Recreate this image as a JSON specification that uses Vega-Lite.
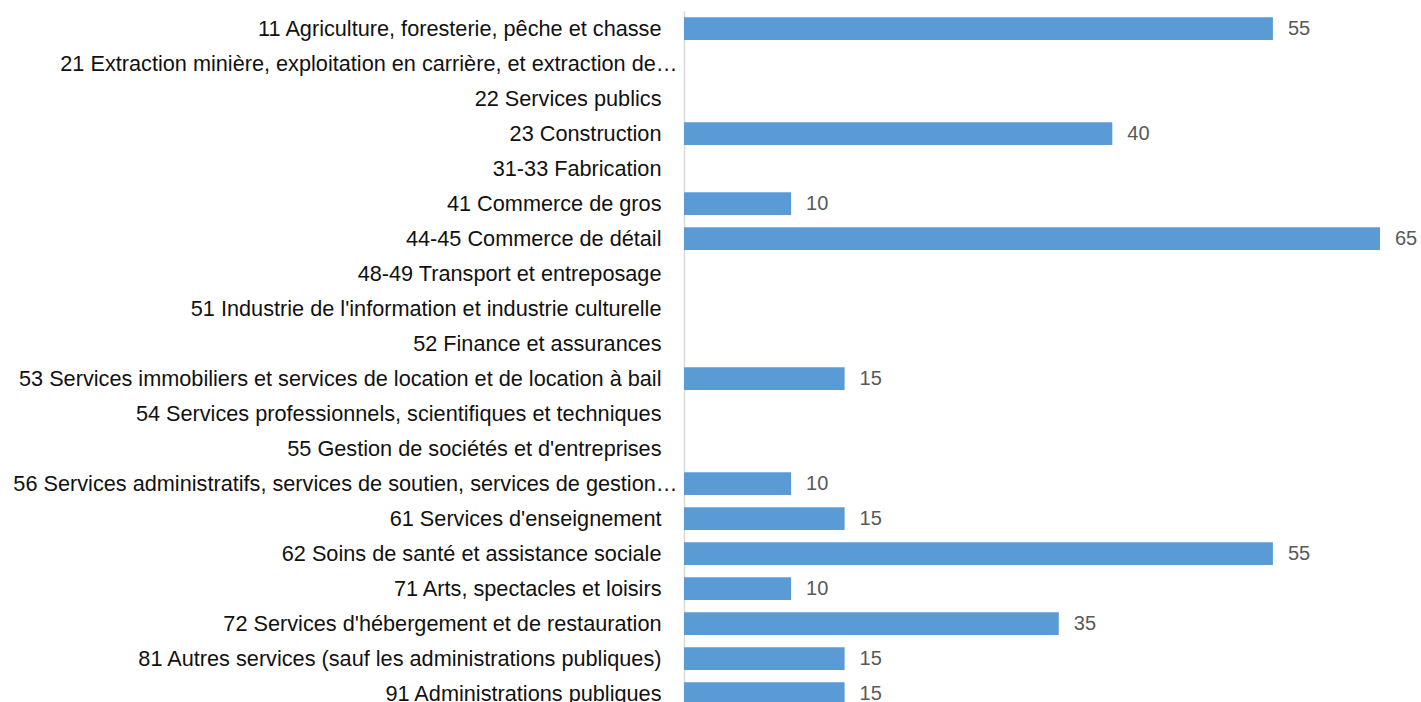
{
  "$schema": "https://vega.github.io/schema/vega-lite/v6.json",
  "width": 696,
  "height": 700,
  "autosize": {"type": "none"},
  "padding": {"left": 684, "top": 11, "right": 41, "bottom": 0},
  "background": "white",
  "config": {"view": {"stroke": null}, "font": "Liberation Sans"},
  "data": {"values": [
    {"secteur": "11 Agriculture, foresterie, pêche et chasse", "valeur": 55},
    {"secteur": "21 Extraction minière, exploitation en carrière, et extraction de…", "valeur": null},
    {"secteur": "22 Services publics", "valeur": null},
    {"secteur": "23 Construction", "valeur": 40},
    {"secteur": "31-33 Fabrication", "valeur": null},
    {"secteur": "41 Commerce de gros", "valeur": 10},
    {"secteur": "44-45 Commerce de détail", "valeur": 65},
    {"secteur": "48-49 Transport et entreposage", "valeur": null},
    {"secteur": "51 Industrie de l'information et industrie culturelle", "valeur": null},
    {"secteur": "52 Finance et assurances", "valeur": null},
    {"secteur": "53 Services immobiliers et services de location et de location à bail", "valeur": 15},
    {"secteur": "54 Services professionnels, scientifiques et techniques", "valeur": null},
    {"secteur": "55 Gestion de sociétés et d'entreprises", "valeur": null},
    {"secteur": "56 Services administratifs, services de soutien, services de gestion…", "valeur": 10},
    {"secteur": "61 Services d'enseignement", "valeur": 15},
    {"secteur": "62 Soins de santé et assistance sociale", "valeur": 55},
    {"secteur": "71 Arts, spectacles et loisirs", "valeur": 10},
    {"secteur": "72 Services d'hébergement et de restauration", "valeur": 35},
    {"secteur": "81 Autres services (sauf les administrations publiques)", "valeur": 15},
    {"secteur": "91 Administrations publiques", "valeur": 15}
  ]},
  "encoding": {
    "y": {
      "field": "secteur", "type": "nominal", "sort": null,
      "scale": {"paddingInner": 0.35, "paddingOuter": 0.175, "domain": [
        "11 Agriculture, foresterie, pêche et chasse",
        "21 Extraction minière, exploitation en carrière, et extraction de…",
        "22 Services publics",
        "23 Construction",
        "31-33 Fabrication",
        "41 Commerce de gros",
        "44-45 Commerce de détail",
        "48-49 Transport et entreposage",
        "51 Industrie de l'information et industrie culturelle",
        "52 Finance et assurances",
        "53 Services immobiliers et services de location et de location à bail",
        "54 Services professionnels, scientifiques et techniques",
        "55 Gestion de sociétés et d'entreprises",
        "56 Services administratifs, services de soutien, services de gestion…",
        "61 Services d'enseignement",
        "62 Soins de santé et assistance sociale",
        "71 Arts, spectacles et loisirs",
        "72 Services d'hébergement et de restauration",
        "81 Autres services (sauf les administrations publiques)",
        "91 Administrations publiques"
      ]},
      "axis": {"title": null, "ticks": false, "domain": true, "domainColor": "#d9d9d9", "domainWidth": 1.5,
               "labelFontSize": 21.7, "labelColor": "#111111", "labelLimit": 800,
               "labelPadding": {"condition": {"test": "datum.value === '21 Extraction minière, exploitation en carrière, et extraction de…' || datum.value === '56 Services administratifs, services de soutien, services de gestion…'", "value": 7}, "value": 23}}
    },
    "x": {
      "field": "valeur", "type": "quantitative",
      "scale": {"domain": [0, 65], "nice": false, "zero": true},
      "axis": null
    }
  },
  "layer": [
    {"mark": {"type": "bar", "color": "#5b9bd5"}},
    {"mark": {"type": "text", "align": "left", "dx": 15, "fontSize": 20, "color": "#595959", "baseline": "middle"},
     "encoding": {"text": {"field": "valeur", "type": "quantitative"}}}
  ]
}
